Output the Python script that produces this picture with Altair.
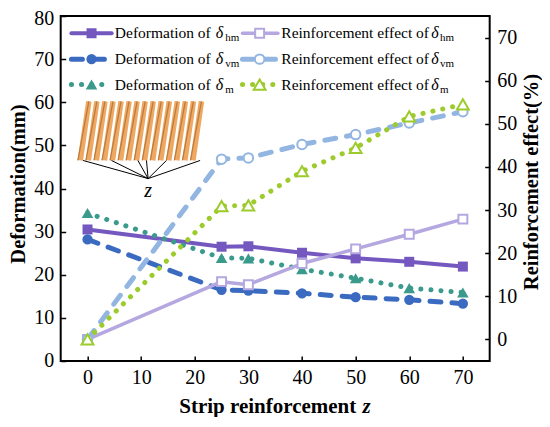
import altair as alt
import pandas as pd

# ---------------- data ----------------
z_vals = [0, 25, 30, 40, 50, 60, 70]
deform_hm = [30.5, 26.5, 26.6, 25.1, 23.8, 23.0, 21.9]
deform_vm = [28.2, 16.5, 16.3, 15.7, 14.8, 14.2, 13.3]
deform_m = [34.3, 23.9, 23.8, 21.3, 19.2, 16.9, 15.9]
effect_hm = [0.0, 13.4, 12.7, 17.6, 21.0, 24.4, 27.9]
effect_vm = [0.0, 41.8, 42.1, 45.2, 47.5, 50.2, 52.8]
effect_m = [0.0, 30.9, 31.1, 39.0, 44.4, 51.7, 54.5]

x_ticks = [0, 10, 20, 30, 40, 50, 60, 70]
left_ticks = [0, 10, 20, 30, 40, 50, 60, 70, 80]
right_ticks = [0, 10, 20, 30, 40, 50, 60, 70]

legend_prefix = ["Deformation of ", "Reinforcement effect of ",
                 "Deformation of ", "Reinforcement effect of ",
                 "Deformation of ", "Reinforcement effect of "]
legend_sub = ["hm", "hm", "vm", "vm", "m", "m"]

x_title = ["Strip reinforcement"]
x_title_var = ["z"]
left_title = ["Deformation(mm)"]
right_title = ["Reinforcement effect(%)"]
inset_label = ["z"]

# ---------------- layout / style constants ----------------
FONT = "Liberation Serif"
PURPLE = "#7458c0"
LAVENDER = "#b5a7e0"
BLUE = "#3b6bc0"
LIGHTBLUE = "#93b5e1"
TEAL = "#3a9a8b"
LIME = "#9ccb2b"
DASHED = [11, 11]
DOTTED = [0.1, 10]

W, H = 429, 345
XSCALE = alt.Scale(domain=[-5, 75], nice=False, zero=False)
YL_SCALE = alt.Scale(domain=[0, 80], nice=False, zero=False)
YR_SCALE = alt.Scale(domain=[-5, 75], nice=False, zero=False)

AX_COMMON = dict(labelFont=FONT, labelFontSize=20, labelColor="black",
                 tickColor="black", tickWidth=1.5, tickSize=5, offset=-5,
                 domain=False, grid=False, title=None, labelPadding=7)
XAXIS = alt.Axis(values=x_ticks, orient="bottom", **AX_COMMON)
YL_AXIS = alt.Axis(values=left_ticks, orient="left",
                   labelBaseline={"condition": {"test": "datum.value == 80", "value": "top"},
                                  "value": "middle"},
                   labelOffset={"condition": {"test": "datum.value == 80", "value": -7.5},
                                "value": 0},
                   **AX_COMMON)
YR_AXIS = alt.Axis(values=right_ticks, orient="right", **AX_COMMON)

# legend layout (positions in data units of x / left-y)
LEG_Y = [76.0, 76.0, 70.0, 70.0, 64.1, 64.1]
LEG_LINE_X1 = [-3.0, 28.9] * 3
LEG_LINE_X2 = [4.5, 35.5] * 3
LEG_MARK_X = [0.75, 32.1] * 3
LEG_TEXT_X = [5.1, 36.15] * 3
LEG_DELTA_X = [23.9, 64.1] * 3
LEG_SUB_X = [25.7, 65.75] * 3

# inset illustration layout (data units)
STRIP_X = [-1.35, 0.15, 1.65, 3.15, 4.65, 6.15, 7.65, 9.15, 10.65, 12.15,
           13.65, 15.15, 16.65, 18.15, 19.65]
STRIP_LEAN = 1.6
STRIP_Y0, STRIP_Y1 = 46.5, 60.2
FAN_X = [-0.82, 4.47, 9.4, 11.0, 14.72, 21.0]
FAN_TIP = (11.3, 42.3)
INSET_LABEL_POS = (11.3, 39.4)

series = [
    # values, side, color, dash, shape, open, line width, marker size
    (deform_hm, "L", PURPLE, None, "square", False, 4, 100),
    (effect_hm, "R", LAVENDER, None, "square", True, 3.5, 80),
    (deform_vm, "L", BLUE, DASHED, "circle", False, 5, 105),
    (effect_vm, "R", LIGHTBLUE, DASHED, "circle", True, 5, 90),
    (deform_m, "L", TEAL, DOTTED, "triangle-up", False, 5, 135),
    (effect_m, "R", LIME, DOTTED, "triangle-up", True, 5, 140),
]


def line_props(color, dash, lw):
    p = dict(color=color, strokeWidth=lw, strokeCap="round", strokeJoin="round")
    if dash:
        p["strokeDash"] = dash
    return p


def point_props(color, shape, open_, size):
    if open_:
        return dict(shape=shape, size=size, filled=True, fill="white",
                    stroke=color, strokeWidth=2, opacity=1, fillOpacity=1)
    return dict(shape=shape, size=size, filled=True, color=color, opacity=1)


left_layers = []
right_layers = []

# inset illustration
strip_df = pd.DataFrame({"x0": STRIP_X,
                         "x1": [v + STRIP_LEAN for v in STRIP_X],
                         "y0": [STRIP_Y0] * len(STRIP_X),
                         "y1": [STRIP_Y1] * len(STRIP_X)})
left_layers.append(alt.Chart(strip_df).mark_rule(color="#eea862", strokeWidth=5.5).encode(
    x=alt.X("x0:Q", scale=XSCALE, axis=XAXIS), x2="x1:Q",
    y=alt.Y("y0:Q", scale=YL_SCALE, axis=YL_AXIS), y2="y1:Q"))
left_layers.append(alt.Chart(strip_df).mark_rule(color="#b97a3e", strokeWidth=1.2, xOffset=-2.4).encode(
    x=alt.X("x0:Q", scale=XSCALE, axis=XAXIS), x2="x1:Q",
    y=alt.Y("y0:Q", scale=YL_SCALE, axis=YL_AXIS), y2="y1:Q"))
fan_df = pd.DataFrame({"x0": FAN_X, "y0": [STRIP_Y0] * len(FAN_X),
                       "x1": [FAN_TIP[0]] * len(FAN_X), "y1": [FAN_TIP[1]] * len(FAN_X)})
left_layers.append(alt.Chart(fan_df).mark_rule(color="black", strokeWidth=1).encode(
    x=alt.X("x0:Q", scale=XSCALE, axis=XAXIS), x2="x1:Q",
    y=alt.Y("y0:Q", scale=YL_SCALE, axis=YL_AXIS), y2="y1:Q"))
lab_df = pd.DataFrame({"x": [INSET_LABEL_POS[0]], "y": [INSET_LABEL_POS[1]], "t": inset_label})
left_layers.append(alt.Chart(lab_df).mark_text(font=FONT, fontSize=20, fontStyle="italic",
                                                color="black", baseline="middle", align="center").encode(
    x=alt.X("x:Q", scale=XSCALE, axis=XAXIS), y=alt.Y("y:Q", scale=YL_SCALE, axis=YL_AXIS), text="t:N"))

# data series
for vals, side, color, dash, shape, open_, lw, size in series:
    df = pd.DataFrame({"z": z_vals, "v": vals})
    if side == "L":
        yenc = alt.Y("v:Q", scale=YL_SCALE, axis=YL_AXIS)
        target = left_layers
    else:
        yenc = alt.Y("v:Q", scale=YR_SCALE, axis=YR_AXIS)
        target = right_layers
    xenc = alt.X("z:Q", scale=XSCALE, axis=XAXIS)
    target.append(alt.Chart(df).mark_line(**line_props(color, dash, lw)).encode(x=xenc, y=yenc))
    target.append(alt.Chart(df).mark_point(**point_props(color, shape, open_, size)).encode(x=xenc, y=yenc))

# legend
for i, (vals, side, color, dash, shape, open_, lw, size) in enumerate(series):
    ldf = pd.DataFrame({"x1": [LEG_LINE_X1[i]], "x2": [LEG_LINE_X2[i]], "xm": [LEG_MARK_X[i]],
                        "y": [LEG_Y[i]], "xt": [LEG_TEXT_X[i]], "xd": [LEG_DELTA_X[i]],
                        "xs": [LEG_SUB_X[i]], "t": [legend_prefix[i]], "d": ["δ"],
                        "s": [legend_sub[i]]})
    yenc = alt.Y("y:Q", scale=YL_SCALE, axis=YL_AXIS)
    left_layers.append(alt.Chart(ldf).mark_rule(**line_props(color, dash, lw)).encode(
        x=alt.X("x1:Q", scale=XSCALE, axis=XAXIS), x2="x2:Q", y=yenc))
    left_layers.append(alt.Chart(ldf).mark_point(**point_props(color, shape, open_, size)).encode(
        x=alt.X("xm:Q", scale=XSCALE, axis=XAXIS), y=yenc))
    left_layers.append(alt.Chart(ldf).mark_text(font=FONT, fontSize=15.5, color="black",
                                                 align="left", baseline="middle").encode(
        x=alt.X("xt:Q", scale=XSCALE, axis=XAXIS), y=yenc, text="t:N"))
    left_layers.append(alt.Chart(ldf).mark_text(font=FONT, fontSize=16, fontStyle="italic", color="black",
                                                 align="left", baseline="middle").encode(
        x=alt.X("xd:Q", scale=XSCALE, axis=XAXIS), y=yenc, text="d:N"))
    left_layers.append(alt.Chart(ldf).mark_text(font=FONT, fontSize=11, color="black",
                                                 align="left", baseline="middle", dy=5).encode(
        x=alt.X("xs:Q", scale=XSCALE, axis=XAXIS), y=yenc, text="s:N"))

# axis titles as text (pixel positions relative to the plot area)
left_layers.append(alt.Chart(pd.DataFrame({"t": x_title})).mark_text(
    font=FONT, fontSize=21, fontWeight="bold", color="black", align="left", baseline="alphabetic").encode(
    x=alt.value(118.6), y=alt.value(397), text="t:N"))
left_layers.append(alt.Chart(pd.DataFrame({"t": x_title_var})).mark_text(
    font=FONT, fontSize=21, fontWeight="bold", fontStyle="italic", color="black",
    align="left", baseline="alphabetic").encode(
    x=alt.value(301.7), y=alt.value(397), text="t:N"))
left_layers.append(alt.Chart(pd.DataFrame({"t": left_title})).mark_text(
    font=FONT, fontSize=20.5, fontWeight="bold", color="black", align="center", baseline="middle",
    angle=270).encode(x=alt.value(-41.5), y=alt.value(168), text="t:N"))
left_layers.append(alt.Chart(pd.DataFrame({"t": right_title})).mark_text(
    font=FONT, fontSize=20.5, fontWeight="bold", color="black", align="center", baseline="middle",
    angle=270).encode(x=alt.value(471.5), y=alt.value(166), text="t:N"))

left = alt.layer(*left_layers)
right = alt.layer(*right_layers)

chart = alt.layer(left, right).resolve_scale(y="independent").properties(
    width=W, height=H,
    autosize=alt.AutoSizeParams(type="none"),
    padding={"left": 52.7, "top": 8, "right": 52, "bottom": 56},
).configure_view(stroke="black", strokeWidth=2)

chart.save("out.html", embed_options={"renderer": "svg", "actions": False})
